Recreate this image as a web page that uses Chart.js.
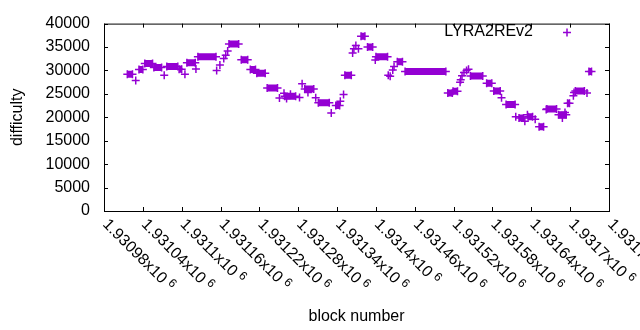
<!DOCTYPE html>
<html lang="en">
<head>
<meta charset="UTF-8">
<title>LYRA2REv2 difficulty</title>
<script src="https://cdn.jsdelivr.net/npm/chart.js"></script>
<style>
  html, body { margin: 0; padding: 0; background: #fff; }
</style>
</head>
<body>
<canvas id="diffChart" width="640" height="330"></canvas>
<script>
// runs of blocks sharing one difficulty (start == end for a lone block)
const runStart = [1931016, 1931029, 1931034, 1931043, 1931057, 1931073, 1931077, 1931096, 1931105, 1931108,
  1931122, 1931125, 1931154, 1931159, 1931165, 1931168, 1931171, 1931173, 1931192, 1931206,
  1931216, 1931232, 1931251, 1931258, 1931259, 1931262, 1931268, 1931282, 1931286, 1931290,
  1931295, 1931307, 1931311, 1931331, 1931338, 1931345, 1931350, 1931352, 1931364, 1931366,
  1931369, 1931373, 1931377, 1931387, 1931399, 1931400, 1931419, 1931422, 1931426, 1931428,
  1931433, 1931445, 1931511, 1931519, 1931530, 1931531, 1931533, 1931536, 1931540, 1931543,
  1931546, 1931571, 1931582, 1931594, 1931601, 1931616, 1931621, 1931630, 1931634, 1931635,
  1931646, 1931652, 1931663, 1931664, 1931682, 1931688, 1931692, 1931696, 1931705, 1931706,
  1931708, 1931726, 1931729];
const runEnd = [1931024, 1931029, 1931040, 1931055, 1931069, 1931073, 1931094, 1931100, 1931105, 1931121,
  1931122, 1931153, 1931154, 1931159, 1931165, 1931168, 1931171, 1931188, 1931202, 1931214,
  1931229, 1931248, 1931251, 1931258, 1931276, 1931262, 1931268, 1931282, 1931286, 1931304,
  1931295, 1931307, 1931328, 1931331, 1931344, 1931345, 1931350, 1931362, 1931364, 1931366,
  1931369, 1931373, 1931383, 1931395, 1931399, 1931418, 1931419, 1931422, 1931426, 1931428,
  1931441, 1931508, 1931518, 1931526, 1931530, 1931531, 1931533, 1931536, 1931540, 1931543,
  1931565, 1931579, 1931592, 1931594, 1931615, 1931616, 1931628, 1931630, 1931634, 1931642,
  1931646, 1931659, 1931663, 1931679, 1931694, 1931688, 1931692, 1931699, 1931705, 1931706,
  1931722, 1931726, 1931733];
const difficulty = [29170, 27830, 30210, 31460, 30620, 28960, 30830, 30270, 29170, 31670,
  30330, 32920, 30000, 31170, 32560, 33250, 34170, 35620, 32290, 30210,
  29380, 26250, 24100, 25120, 24500, 24000, 24900, 24230, 27150, 26040,
  25270, 24170, 23120, 20900, 22500, 23400, 24850, 28960, 33750, 34650,
  35330, 34650, 37290, 35000, 32210, 32920, 28960, 28750, 30120, 30830,
  31870, 29750, 25210, 25540, 27500, 28040, 28870, 29580, 30000, 30270,
  28810, 27290, 25620, 24170, 22710, 20120, 19850, 19170, 20540, 20120,
  19580, 17980, 21670, 21790, 20540, 19850, 21000, 22980, 24580, 25270,
  25620, 25200, 29790];

const xTickLabels = ['1.93098', '1.93104', '1.9311', '1.93116', '1.93122', '1.93128', '1.93134',
  '1.9314', '1.93146', '1.93152', '1.93158', '1.93164', '1.9317', '1.93176'];
const seriesName = 'LYRA2REv2';

const purple = '#9400d3';
const fontFamily = '"Liberation Sans", Arial, sans-serif';

const runLine = [];
const marks = [];
runStart.forEach((s, i) => {
    runLine.push({x: s, y: difficulty[i]}, {x: runEnd[i], y: difficulty[i]}, {x: runEnd[i], y: null});
    marks.push({x: s, y: difficulty[i]});
    if (runEnd[i] !== s) marks.push({x: runEnd[i], y: difficulty[i]});
});

function cross(ctx, x, y, r) {
    ctx.beginPath();
    ctx.moveTo(x - r, y); ctx.lineTo(x + r, y);
    ctx.moveTo(x, y - r); ctx.lineTo(x, y + r);
    ctx.stroke();
}

// gnuplot style frame, inward ticks, rotated x labels and key
const gnuFrame = {
    id: 'gnuFrame',
    afterDraw(chart) {
        const {ctx, chartArea: a, scales: {x, y}} = chart;
        const t = 4;
        ctx.save();
        ctx.strokeStyle = '#000';
        ctx.lineWidth = 1;
        ctx.strokeRect(a.left + 0.5, a.top + 0.5, a.right - a.left, a.bottom - a.top);
        ctx.beginPath();
        x.ticks.forEach(tk => {
            const px = Math.round(x.getPixelForValue(tk.value)) + 0.5;
            ctx.moveTo(px, a.bottom); ctx.lineTo(px, a.bottom - t);
            ctx.moveTo(px, a.top); ctx.lineTo(px, a.top + t);
        });
        y.ticks.forEach(tk => {
            const py = Math.round(y.getPixelForValue(tk.value)) + 0.5;
            ctx.moveTo(a.left, py); ctx.lineTo(a.left + t, py);
            ctx.moveTo(a.right, py); ctx.lineTo(a.right - t, py);
        });
        ctx.stroke();

        ctx.fillStyle = '#000';
        ctx.textAlign = 'left';
        ctx.textBaseline = 'middle';
        x.ticks.forEach((tk, i) => {
            const px = x.getPixelForValue(tk.value);
            ctx.save();
            ctx.translate(px + 1, 222);
            ctx.rotate(Math.PI / 4);
            ctx.font = '16px ' + fontFamily;
            const main = xTickLabels[i] + 'x10';
            ctx.fillText(main, 0, 0);
            const w = ctx.measureText(main).width;
            ctx.font = '12px ' + fontFamily;
            ctx.fillText('6', w + 4, -4);
            ctx.restore();
        });

        ctx.font = '16px ' + fontFamily;
        ctx.textAlign = 'right';
        ctx.fillText(seriesName, 533, 32);
        ctx.strokeStyle = purple;
        ctx.lineWidth = 1.5;
        cross(ctx, 567, 32.5, 4);
        ctx.restore();
    }
};

new Chart(document.getElementById('diffChart'), {
    type: 'scatter',
    data: {
        datasets: [
            {
                type: 'line',
                label: seriesName,
                data: runLine,
                borderColor: purple,
                borderWidth: 7,
                borderCapStyle: 'butt',
                pointRadius: 0,
                spanGaps: false,
                fill: false
            },
            {
                label: seriesName,
                data: marks,
                pointStyle: 'cross',
                pointRadius: 4,
                borderColor: purple,
                backgroundColor: purple,
                borderWidth: 1.5
            }
        ]
    },
    options: {
        responsive: false,
        animation: false,
        devicePixelRatio: 1,
        layout: { padding: { top: 19, right: 31 } },
        plugins: { legend: { display: false }, tooltip: { enabled: false } },
        scales: {
            x: {
                type: 'linear',
                min: 1930980,
                max: 1931760,
                ticks: { display: false, stepSize: 60 },
                grid: { display: false, drawTicks: false },
                border: { display: false },
                title: { display: true, text: 'block number', color: '#000',
                         font: { family: fontFamily, size: 16 }, padding: { top: 0, bottom: 4 } },
                afterFit(s) { s.height = 119; }
            },
            y: {
                min: 0,
                max: 40000,
                ticks: { stepSize: 5000, color: '#000', padding: 14,
                         font: { family: fontFamily, size: 16 }, callback: v => String(v) },
                grid: { display: false, drawTicks: false },
                border: { display: false },
                title: { display: true, text: 'difficulty', color: '#000',
                         font: { family: fontFamily, size: 16 }, padding: { top: 8, bottom: 0 } },
                afterFit(s) { s.width = 104; }
            }
        }
    },
    plugins: [gnuFrame]
});
</script>
</body>
</html>
